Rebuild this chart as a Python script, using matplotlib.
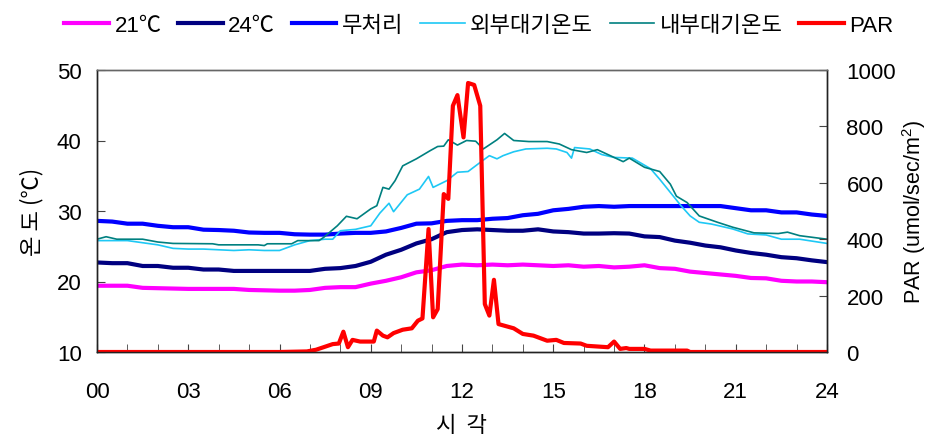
import matplotlib
matplotlib.use("Agg")
import matplotlib.pyplot as plt

plt.rcParams['font.family'] = ['Liberation Sans', 'Noto Sans CJK KR', 'DejaVu Sans']
plt.rcParams['mathtext.fontset'] = 'custom'
plt.rcParams['mathtext.rm'] = 'Liberation Sans'

# 무처리
t_none = [0, 0.5, 1.0, 1.5, 2.0, 2.5, 3.0, 3.5, 4.0, 4.5, 5.0, 5.5, 6.0, 6.5, 7.0, 7.5, 8.0, 8.5,
          9.0, 9.5, 10.0, 10.5, 11.0, 11.5, 12.0, 12.5, 13.0, 13.5, 14.0, 14.5, 15.0, 15.5, 16.0,
          16.5, 17.0, 17.5, 18.0, 18.5, 19.0, 19.5, 20.0, 20.5, 21.0, 21.5, 22.0, 22.5, 23.0, 23.5, 24.0]
v_none = [28.6, 28.5, 28.2, 28.2, 27.9, 27.7, 27.7, 27.35, 27.3, 27.2, 26.95, 26.9, 26.9, 26.7,
          26.65, 26.65, 26.8, 26.9, 26.9, 27.1, 27.6, 28.2, 28.25, 28.6, 28.7, 28.7, 28.9, 29.0,
          29.4, 29.6, 30.1, 30.3, 30.6, 30.7, 30.6, 30.7, 30.7, 30.7, 30.7, 30.7, 30.7, 30.7,
          30.4, 30.1, 30.1, 29.8, 29.8, 29.5, 29.3]

# 24℃
t_24 = t_none
v_24 = [22.7, 22.6, 22.6, 22.2, 22.2, 21.95, 21.95, 21.7, 21.7, 21.5, 21.5, 21.5, 21.5, 21.5,
        21.5, 21.8, 21.9, 22.2, 22.8, 23.8, 24.5, 25.4, 26.0, 27.0, 27.3, 27.4, 27.3, 27.2, 27.2,
        27.4, 27.1, 27.0, 26.8, 26.8, 26.85, 26.8, 26.4, 26.3, 25.8, 25.5, 25.1, 24.85, 24.4,
        24.05, 23.8, 23.45, 23.3, 23.0, 22.75]

# 21℃
t_21 = t_none
v_21 = [19.4, 19.4, 19.4, 19.1, 19.05, 19.0, 18.95, 18.95, 18.95, 18.95, 18.8, 18.75, 18.7,
        18.7, 18.8, 19.1, 19.2, 19.2, 19.7, 20.1, 20.6, 21.3, 21.6, 22.2, 22.4, 22.3, 22.4, 22.3,
        22.4, 22.3, 22.2, 22.3, 22.1, 22.2, 22.0, 22.1, 22.3, 21.9, 21.8, 21.4, 21.2, 21.0, 20.8,
        20.5, 20.45, 20.1, 20.0, 20.0, 19.9]

# 외부대기온도
t_out = [0, 0.5, 1.0, 1.5, 2.0, 2.5, 3.0, 3.5, 4.0, 4.5, 5.0, 5.5, 6.0, 6.5, 7.0, 7.5, 7.75,
         8.0, 8.5, 9.0, 9.3, 9.6, 9.75, 10.2, 10.6, 10.9, 11.05, 11.5, 11.85, 12.2, 12.6, 12.9,
         13.15, 13.35, 13.7, 14.1, 14.8, 15.1, 15.45, 15.6, 15.7, 16.2, 16.6, 17.0, 17.6, 18.2,
         18.5, 18.8, 19.2, 19.5, 19.8, 20.2, 20.9, 21.4, 22.0, 22.5, 23.1, 24.0]
v_out = [25.8, 25.8, 25.8, 25.5, 25.2, 24.7, 24.6, 24.6, 24.5, 24.4, 24.5, 24.4, 24.4, 25.2,
         25.8, 26.0, 26.0, 27.2, 27.4, 27.9, 29.7, 31.1, 29.9, 32.3, 33.1, 34.9, 33.35, 34.3,
         35.5, 35.6, 36.9, 37.85, 37.4, 37.85, 38.4, 38.8, 38.9, 38.8, 38.3, 37.5, 39.0, 38.8,
         38.0, 37.6, 37.5, 36.0, 34.5, 32.9, 30.75, 29.3, 28.4, 28.15, 27.45, 26.75, 26.6, 26.0,
         26.0, 25.4]

# 내부대기온도
t_in = [0, 0.3, 0.65, 1.5, 2.0, 2.5, 3.8, 4.0, 5.3, 5.5, 5.6, 6.4, 6.6, 7.3, 7.45, 7.9, 8.2,
        8.55, 9.0, 9.2, 9.4, 9.6, 9.8, 10.05, 10.5, 10.95, 11.2, 11.4, 11.55, 11.85, 12.15, 12.45,
        12.7, 13.15, 13.4, 13.7, 14.2, 14.8, 15.2, 15.6, 16.1, 16.45, 17.0, 17.3, 17.5, 18.0,
        18.5, 18.85, 19.05, 19.4, 19.8, 20.4, 20.9, 21.6, 22.4, 22.7, 23.1, 24.0]
v_in = [26.0, 26.35, 26.0, 26.0, 25.6, 25.4, 25.35, 25.2, 25.2, 25.1, 25.35, 25.35, 25.8, 25.8,
        26.25, 27.9, 29.25, 28.9, 30.3, 30.75, 33.35, 33.1, 34.3, 36.4, 37.4, 38.55, 39.15, 39.2,
        40.1, 39.35, 40.0, 39.9, 38.8, 40.1, 41.0, 40.0, 39.85, 39.85, 39.5, 38.7, 38.3, 38.7,
        37.6, 37.0, 37.5, 36.2, 35.6, 33.8, 32.1, 31.2, 29.3, 28.4, 27.7, 26.9, 26.8, 27.0, 26.5,
        26.0]

# PAR
t_par = [0, 6.0, 6.9, 7.2, 7.45, 7.75, 7.95, 8.1, 8.25, 8.4, 8.65, 9.1, 9.2, 9.4, 9.55, 9.75,
         10.05, 10.35, 10.55, 10.7, 10.9, 11.05, 11.2, 11.4, 11.55, 11.7, 11.85, 12.05, 12.2,
         12.4, 12.6, 12.75, 12.9, 13.05, 13.2, 13.7, 14.0, 14.35, 14.8, 15.1, 15.35, 15.9, 16.1,
         16.8, 17.0, 17.2, 17.4, 17.5, 18.0, 18.2, 19.4, 19.5, 24]
v_par = [0, 0, 2, 8, 17, 28, 30, 72, 17, 43, 37, 37, 76, 58, 52, 67, 79, 84, 111, 119, 436, 123,
         152, 560, 543, 873, 911, 761, 954, 947, 873, 170, 129, 256, 99, 84, 64, 58, 40, 43, 32,
         30, 22, 17, 37, 11, 14, 11, 11, 5, 5, 0, 0]

hour_ticks = list(range(0, 25, 3))
hour_labels = [f"{h:02d}" for h in hour_ticks]

fig = plt.figure(figsize=(9.32, 4.39), dpi=100)
ax = fig.add_axes([97 / 932, 86 / 439, 730 / 932, 282 / 439])
ax2 = ax.twinx()

h21, = ax.plot(t_21, v_21, color='#FF00FF', lw=3, label='21℃')
h24, = ax.plot(t_24, v_24, color='#000080', lw=3, label='24℃')
hnone, = ax.plot(t_none, v_none, color='#0000FF', lw=3, label='무처리')
hout, = ax.plot(t_out, v_out, color='#1EC8F5', lw=1.2, label='외부대기온도')
hin, = ax.plot(t_in, v_in, color='#008080', lw=1.2, label='내부대기온도')
hpar, = ax2.plot(t_par, v_par, color='#FF0000', lw=3, label='PAR')

ax.set_xlim(0, 24)
ax.set_ylim(10, 50)
ax2.set_ylim(0, 1000)
ax.set_xticks(hour_ticks)
ax.set_xticklabels(hour_labels)
ax.set_xticks(range(25), minor=True)
ax.set_yticks([10, 20, 30, 40, 50])
ax2.set_yticks(range(0, 1001, 200))

ax.tick_params(axis='x', which='both', direction='in', length=6, color='#444444',
               labelsize=16, pad=21)
ax.tick_params(axis='y', direction='in', length=6, color='#444444', labelsize=16, pad=11)
ax2.tick_params(axis='y', direction='in', length=6, color='#444444', labelsize=16, pad=14)

for a in (ax, ax2):
    for s in a.spines.values():
        s.set_color('#222222')
        s.set_linewidth(1)
    a.spines['top'].set_color('#666666')

ax.set_xlabel('시  각', fontsize=16, family=['Noto Sans CJK KR'], labelpad=8)
ax.set_ylabel('온 도 (℃)', fontsize=16, family=['Noto Sans CJK KR'], labelpad=10)
ax2.set_ylabel('PAR (umol/sec/m$^{2}$)', fontsize=15.5, labelpad=3)

fig.legend(handles=[h21, h24, hnone, hout, hin, hpar], loc='center',
           bbox_to_anchor=(0.514, 0.940), ncol=6, frameon=False,
           handlelength=2.0, handletextpad=0.25, columnspacing=0.75,
           prop={'family': ['Liberation Sans', 'Noto Sans CJK KR'], 'size': 16})

fig.savefig('out.png', dpi=100)
